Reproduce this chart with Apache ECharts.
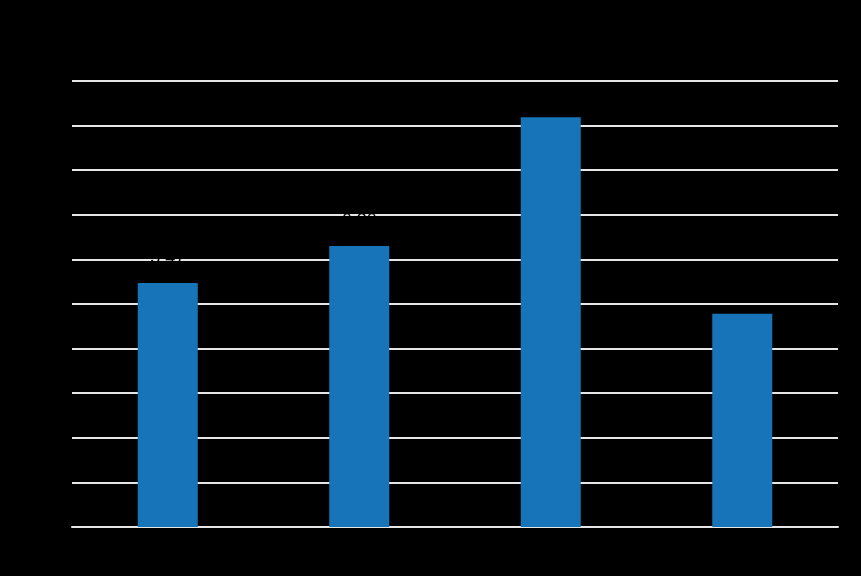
<!DOCTYPE html>
<html>
<head>
<meta charset="utf-8">
<script src="https://cdn.jsdelivr.net/npm/echarts@6/dist/echarts.min.js"></script>
<style>
html,body{margin:0;padding:0;background:#000;}
#chart{width:861px;height:576px;}
</style>
</head>
<body>
<div id="chart"></div>
<script>
const categories = ['A', 'B', 'C', 'D'];
const values = [5.47, 6.30, 9.19, 4.78];

const chart = echarts.init(document.getElementById('chart'), null, {renderer: 'canvas'});
chart.setOption({
  backgroundColor: '#000000',
  animation: false,
  grid: {left: 72, right: 23, top: 81, bottom: 49, containLabel: false},
  xAxis: {
    type: 'category',
    data: categories,
    axisLine: {show: true, lineStyle: {color: '#e6e6e6', width: 2}},
    axisTick: {show: false},
    axisLabel: {color: '#000000', fontSize: 13, fontFamily: 'Liberation Sans'}
  },
  yAxis: {
    type: 'value',
    min: 0,
    max: 10,
    interval: 1,
    axisLine: {show: false},
    axisTick: {show: false},
    axisLabel: {color: '#000000', fontSize: 13, fontFamily: 'Liberation Sans'},
    splitLine: {lineStyle: {color: '#e6e6e6', width: 2}}
  },
  series: [{
    type: 'bar',
    data: values,
    barWidth: 60,
    itemStyle: {color: '#1874b8'},
    label: {
      show: true,
      position: 'top',
      distance: 16,
      color: '#000000',
      fontSize: 18,
      fontFamily: 'Liberation Sans',
      formatter: p => p.value.toFixed(2)
    }
  }]
});
</script>
</body>
</html>
